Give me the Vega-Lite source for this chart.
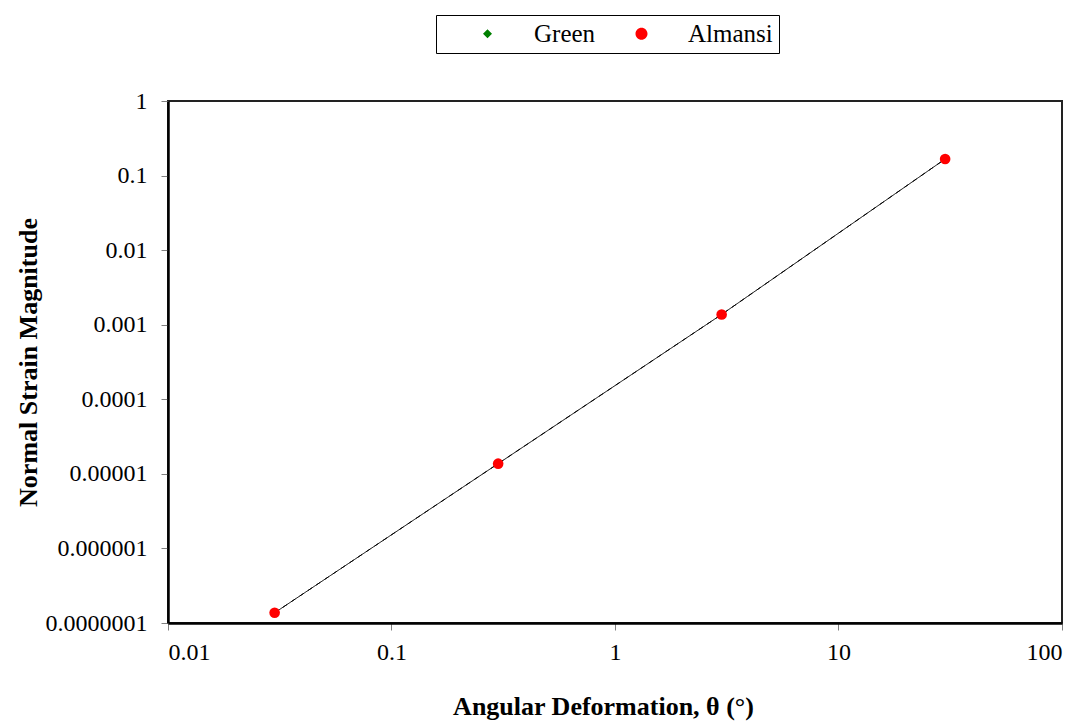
{
  "$schema": "https://vega.github.io/schema/vega-lite/v6.json",
  "width": 894,
  "height": 522,
  "autosize": {"type": "none"},
  "padding": {"left": 168, "top": 101, "right": 26, "bottom": 100},
  "background": "white",
  "config": {
    "font": "Liberation Serif",
    "view": {"stroke": "#222", "strokeWidth": 2},
    "axis": {"grid": false, "labelFont": "Liberation Serif", "titleFont": "Liberation Serif", "labelFontSize": 24, "titleFontSize": 26, "labelColor": "#000", "titleColor": "#000", "domainColor": "#000", "domainWidth": 2.5, "tickColor": "#808080", "tickWidth": 1, "tickSize": 7, "titleFontWeight": "bold"},
    "legend": {
      "title": null,
      "orient": "none",
      "direction": "horizontal",
      "legendX": 268,
      "legendY": -86,
      "columns": 2,
      "labelFont": "Liberation Serif",
      "labelFontSize": 25,
      "labelColor": "#000",
      "strokeColor": "#000",
      "fillColor": "white",
      "padding": 6,
      "labelOffset": 67,
      "columnPadding": -24,
      "symbolOpacity": 1,
      "symbolStrokeColor": "#000",
      "symbolStrokeWidth": 1,
      "symbolSize": 400
    }
  },
  "data": {
    "values": [
      {"angle": 0.03, "strain": 1.371e-7, "series": "Green"},
      {"angle": 0.3, "strain": 1.371e-5, "series": "Green"},
      {"angle": 3, "strain": 1.373e-3, "series": "Green"},
      {"angle": 30, "strain": 0.1667, "series": "Green"},
      {"angle": 0.03, "strain": 1.371e-7, "series": "Almansi"},
      {"angle": 0.3, "strain": 1.371e-5, "series": "Almansi"},
      {"angle": 3, "strain": 1.373e-3, "series": "Almansi"},
      {"angle": 30, "strain": 0.1667, "series": "Almansi"}
    ]
  },
  "encoding": {
    "x": {
      "field": "angle", "type": "quantitative",
      "scale": {"type": "log", "domain": [0.01, 100]},
      "axis": {"values": [0.01, 0.1, 1, 10, 100], "format": ".2~f", "labelPadding": 10, "title": "Angular Deformation, θ (°)", "titleX": 435, "titleY": 83, "titleBaseline": "middle"}
    },
    "y": {
      "field": "strain", "type": "quantitative",
      "scale": {"type": "log", "domain": [1e-7, 1]},
      "axis": {"values": [1e-7, 1e-6, 1e-5, 1e-4, 1e-3, 1e-2, 1e-1, 1], "format": ".7~f", "labelPadding": 14, "title": "Normal Strain Magnitude", "titleX": -140, "titleY": 261, "titleBaseline": "middle", "titleAlign": "center"}
    }
  },
  "layer": [
    {
      "mark": {"type": "line", "color": "#000", "strokeWidth": 1},
      "encoding": {
        "strokeDash": {
          "field": "series", "type": "nominal",
          "scale": {"domain": ["Green", "Almansi"], "range": [[5, 5], [1, 0]]}
        },
        "order": {"field": "angle", "type": "quantitative"}
      }
    },
    {
      "mark": {"type": "point", "filled": false, "opacity": 0, "stroke": "#000", "strokeWidth": 1},
      "encoding": {
        "fill": {
          "field": "series", "type": "nominal",
          "scale": {"domain": ["Green", "Almansi"], "range": ["#008000", "#ff0000"]}
        },
        "shape": {
          "field": "series", "type": "nominal",
          "scale": {"domain": ["Green", "Almansi"], "range": ["M-0.7,0L7.3,0M3.3,-0.45L3.75,0L3.3,0.45L2.85,0Z", "M-0.7,0L7.3,0M2.7,0A0.6,0.6 0 1,0 3.9,0A0.6,0.6 0 1,0 2.7,0Z"]}
        }
      }
    },
    {
      "transform": [{"filter": "datum.series == 'Green'"}],
      "mark": {"type": "point", "filled": true, "opacity": 1, "size": 60, "shape": "diamond", "color": "#008000"},
      "encoding": {}
    },
    {
      "transform": [{"filter": "datum.series == 'Almansi'"}],
      "mark": {"type": "point", "filled": true, "opacity": 1, "size": 113, "shape": "circle", "color": "#ff0000"},
      "encoding": {}
    }
  ]
}
